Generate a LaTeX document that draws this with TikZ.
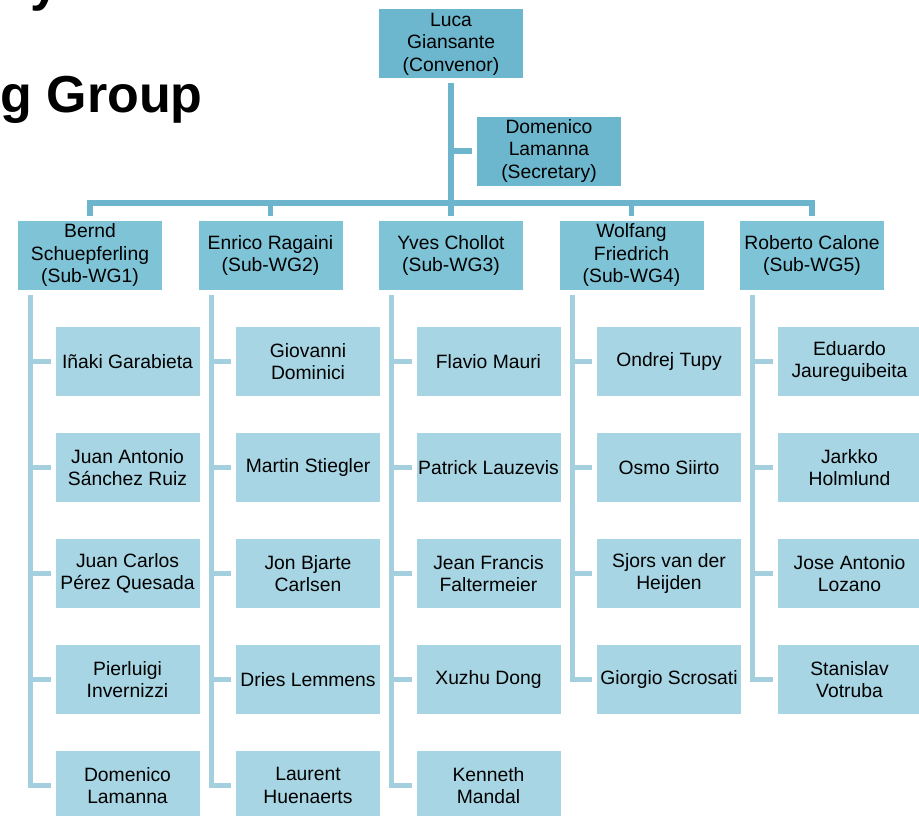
\documentclass[tikz,border=0pt]{standalone}
\usepackage{fontspec}
\setmainfont{Liberation Sans}
\usepackage{xcolor}
\usetikzlibrary{positioning}

\definecolor{headblue}{HTML}{6CB7CD}
\definecolor{wgblue}{HTML}{7EC3D6}
\definecolor{memblue}{HTML}{A7D5E3}
\definecolor{headline}{HTML}{6DB5CC}
\definecolor{memline}{HTML}{A4CFDE}

\begin{document}
\begin{tikzpicture}[x=1pt, y=-1pt,
            box/.style={minimum width=144pt, minimum height=69pt, inner sep=0pt, outer sep=5pt, align=center, font=\fontsize{19.3}{22.5}\selectfont},
            headbox/.style={box, fill=headblue},
            wgbox/.style={box, fill=wgblue},
            membox/.style={box, fill=memblue},
            topcon/.style={draw=headline, line width=5.5pt},
            memcon/.style={draw=memline, line width=5pt}]
            \useasboundingbox (0,0) rectangle (919,816);
            \node[anchor=base west, font=\fontsize{52}{60}\bfseries\selectfont] (title1) at (27,0.5) {y};
            \node[anchor=base west, font=\fontsize{52}{60}\bfseries\selectfont] (title2) at (-3,113) {g Group};
            \node[headbox] (conv) at (451,44) {Luca\\Giansante\\(Convenor)};
            \node[headbox] (sec) at (549,151) {Domenico\\Lamanna\\(Secretary)};
            \node[wgbox] (wg1) at (90,255.5) {Bernd\\Schuepferling\\(Sub-WG1)};
            \node[wgbox] (wg2) at (270.5,255.5) {Enrico Ragaini\\(Sub-WG2)};
            \node[wgbox] (wg3) at (451,255.5) {Yves Chollot\\(Sub-WG3)};
            \node[wgbox] (wg4) at (631.5,255.5) {Wolfang\\Friedrich\\(Sub-WG4)};
            \node[wgbox] (wg5) at (812,255.5) {Roberto Calone\\(Sub-WG5)};
            \coordinate (bus) at (451,203);
            \draw[topcon] (conv.south) -- (wg3.north);
            \draw[topcon] (conv.south |- sec.west) -- (sec.west);
            \draw[topcon] (wg1.north) |- (bus) -| (wg5.north);
            \draw[topcon] (wg2.north) -- (wg2.north |- bus);
            \draw[topcon] (wg4.north) -- (wg4.north |- bus);
            \node[membox] (m11) at (127.5,361.5) {Iñaki Garabieta};
            \node[membox] (m12) at (127.5,467.5) {Juan Antonio\\Sánchez Ruiz};
            \node[membox] (m13) at (127.5,573.5) {Juan Carlos\\Pérez Quesada};
            \node[membox] (m14) at (127.5,679.5) {Pierluigi\\Invernizzi};
            \node[membox] (m15) at (127.5,785.5) {Domenico\\Lamanna};
            \node[membox] (m21) at (308,361.5) {Giovanni\\Dominici};
            \node[membox] (m22) at (308,467.5) {Martin Stiegler};
            \node[membox] (m23) at (308,573.5) {Jon Bjarte\\Carlsen};
            \node[membox] (m24) at (308,679.5) {Dries Lemmens};
            \node[membox] (m25) at (308,785.5) {Laurent\\Huenaerts};
            \node[membox] (m31) at (488.5,361.5) {Flavio Mauri};
            \node[membox] (m32) at (488.5,467.5) {Patrick Lauzevis};
            \node[membox] (m33) at (488.5,573.5) {Jean Francis\\Faltermeier};
            \node[membox] (m34) at (488.5,679.5) {Xuzhu Dong};
            \node[membox] (m35) at (488.5,785.5) {Kenneth\\Mandal};
            \node[membox] (m41) at (669,361.5) {Ondrej Tupy};
            \node[membox] (m42) at (669,467.5) {Osmo Siirto};
            \node[membox] (m43) at (669,573.5) {Sjors van der\\Heijden};
            \node[membox] (m44) at (669,679.5) {Giorgio Scrosati};
            \node[membox] (m51) at (849.5,361.5) {Eduardo\\Jaureguibeita};
            \node[membox] (m52) at (849.5,467.5) {Jarkko\\Holmlund};
            \node[membox] (m53) at (849.5,573.5) {Jose Antonio\\Lozano};
            \node[membox] (m54) at (849.5,679.5) {Stanislav\\Votruba};
            \foreach \m in {m11,m12,m13,m14,m15} \draw[memcon] ([xshift=17.5pt]wg1.south west) |- (\m.west);
            \foreach \m in {m21,m22,m23,m24,m25} \draw[memcon] ([xshift=17.5pt]wg2.south west) |- (\m.west);
            \foreach \m in {m31,m32,m33,m34,m35} \draw[memcon] ([xshift=17.5pt]wg3.south west) |- (\m.west);
            \foreach \m in {m41,m42,m43,m44} \draw[memcon] ([xshift=17.5pt]wg4.south west) |- (\m.west);
            \foreach \m in {m51,m52,m53,m54} \draw[memcon] ([xshift=17.5pt]wg5.south west) |- (\m.west);
        \end{tikzpicture}
\end{document}
